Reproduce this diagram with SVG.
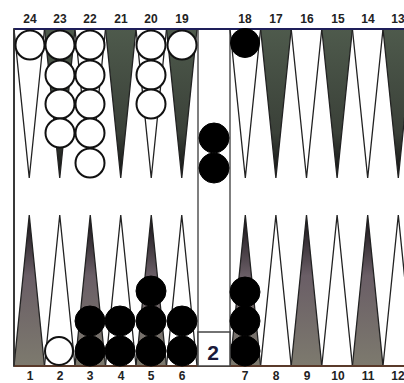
<svg xmlns="http://www.w3.org/2000/svg" width="404" height="383" viewBox="0 0 404 383">
<defs>
<linearGradient id="gt" x1="0" y1="0" x2="0" y2="1">
<stop offset="0" stop-color="#4e5a4c"/><stop offset="0.7" stop-color="#3a4038"/><stop offset="1" stop-color="#111"/>
</linearGradient>
<linearGradient id="gb" x1="0" y1="1" x2="0" y2="0">
<stop offset="0" stop-color="#7d7a6e"/><stop offset="0.6" stop-color="#6a5e66"/><stop offset="1" stop-color="#141014"/>
</linearGradient>
<style>
.pw{fill:#fff;stroke:#222;stroke-width:1.3}
.pdt{fill:url(#gt);stroke:#222;stroke-width:1.3}
.pdb{fill:url(#gb);stroke:#222;stroke-width:1.3}
.w{fill:#fff;stroke:#111;stroke-width:2}
.b{fill:#000;stroke:#000;stroke-width:1}
.n{font-family:"Liberation Sans",Arial,sans-serif;font-size:12px;font-weight:bold;fill:#222;text-anchor:middle}
</style>
</defs>
<rect width="404" height="383" fill="#fff"/>
<g id="board">
<rect x="14" y="29" width="400" height="337" fill="#fff" stroke="#333" stroke-width="1.5"/>
<line x1="198" y1="29" x2="198" y2="366" stroke="#555" stroke-width="1.5"/>
<line x1="230" y1="29" x2="230" y2="366" stroke="#555" stroke-width="1.5"/>
</g>
<g id="points">
<polygon class="pw" points="14,29 44.5,29 29.25,178"/>
<polygon class="pdt" points="44.5,29 75,29 59.75,178"/>
<polygon class="pw" points="75,29 105.5,29 90.25,178"/>
<polygon class="pdt" points="105.5,29 136,29 120.75,178"/>
<polygon class="pw" points="136,29 166.5,29 151.25,178"/>
<polygon class="pdt" points="166.5,29 197,29 181.75,178"/>
<polygon class="pw" points="230,29 260.6,29 245.3,178"/>
<polygon class="pdt" points="260.6,29 291.2,29 275.9,178"/>
<polygon class="pw" points="291.2,29 321.8,29 306.5,178"/>
<polygon class="pdt" points="321.8,29 352.4,29 337.1,178"/>
<polygon class="pw" points="352.4,29 383,29 367.7,178"/>
<polygon class="pdt" points="383,29 413.6,29 398.3,178"/>
<polygon class="pdb" points="14,366 44.5,366 29.25,215"/>
<polygon class="pw" points="44.5,366 75,366 59.75,215"/>
<polygon class="pdb" points="75,366 105.5,366 90.25,215"/>
<polygon class="pw" points="105.5,366 136,366 120.75,215"/>
<polygon class="pdb" points="136,366 166.5,366 151.25,215"/>
<polygon class="pw" points="166.5,366 197,366 181.75,215"/>
<polygon class="pdb" points="230,366 260.6,366 245.3,215"/>
<polygon class="pw" points="260.6,366 291.2,366 275.9,215"/>
<polygon class="pdb" points="291.2,366 321.8,366 306.5,215"/>
<polygon class="pw" points="321.8,366 352.4,366 337.1,215"/>
<polygon class="pdb" points="352.4,366 383,366 367.7,215"/>
<polygon class="pw" points="383,366 413.6,366 398.3,215"/>
</g>
<g id="frame-lines">
<line x1="14" y1="29" x2="404" y2="29" stroke="#1e1e5a" stroke-width="2.2"/>
<line x1="14" y1="366" x2="404" y2="366" stroke="#5a3a2a" stroke-width="2"/>
<line x1="14" y1="29" x2="14" y2="366" stroke="#333" stroke-width="1.8"/>
</g>
<g id="white-checkers">
<circle class="w" cx="30" cy="45" r="14.5"/>
<circle class="w" cx="60" cy="45" r="14.5"/>
<circle class="w" cx="60" cy="75" r="14.5"/>
<circle class="w" cx="60" cy="104" r="14.5"/>
<circle class="w" cx="60" cy="133" r="14.5"/>
<circle class="w" cx="90" cy="45" r="14.5"/>
<circle class="w" cx="90" cy="75" r="14.5"/>
<circle class="w" cx="90" cy="104" r="14.5"/>
<circle class="w" cx="90" cy="133" r="14.5"/>
<circle class="w" cx="90" cy="163" r="14.5"/>
<circle class="w" cx="151" cy="45" r="14.5"/>
<circle class="w" cx="151" cy="75" r="14.5"/>
<circle class="w" cx="151" cy="104" r="14.5"/>
<circle class="w" cx="182" cy="45" r="14.5"/>
<circle class="w" cx="59" cy="351" r="14"/>
</g>
<g id="black-checkers">
<circle class="b" cx="245" cy="43" r="14.5"/>
<circle class="b" cx="214" cy="138" r="15"/>
<circle class="b" cx="214" cy="168" r="15"/>
<circle class="b" cx="90" cy="351" r="15"/>
<circle class="b" cx="90" cy="321" r="15"/>
<circle class="b" cx="120" cy="351" r="15"/>
<circle class="b" cx="120" cy="321" r="15"/>
<circle class="b" cx="151" cy="351" r="15"/>
<circle class="b" cx="151" cy="321" r="15"/>
<circle class="b" cx="151" cy="291" r="15"/>
<circle class="b" cx="182" cy="351" r="15"/>
<circle class="b" cx="182" cy="321" r="15"/>
<circle class="b" cx="245" cy="351" r="15"/>
<circle class="b" cx="245" cy="321" r="15"/>
<circle class="b" cx="245" cy="292" r="15"/>
</g>
<g id="cube">
<rect x="198" y="332" width="32" height="34" fill="#fff" stroke="#444" stroke-width="1.5"/>
<text x="213" y="360" font-family="Liberation Sans,Arial,sans-serif" font-size="21" font-weight="bold" fill="#1a1a3a" text-anchor="middle">2</text>
</g>
<g id="labels">
<text class="n" x="30" y="23">24</text>
<text class="n" x="60" y="23">23</text>
<text class="n" x="90" y="23">22</text>
<text class="n" x="121" y="23">21</text>
<text class="n" x="151" y="23">20</text>
<text class="n" x="182" y="23">19</text>
<text class="n" x="245" y="23">18</text>
<text class="n" x="276" y="23">17</text>
<text class="n" x="307" y="23">16</text>
<text class="n" x="338" y="23">15</text>
<text class="n" x="368" y="23">14</text>
<text class="n" x="398" y="23">13</text>
<text class="n" x="30" y="380">1</text>
<text class="n" x="60" y="380">2</text>
<text class="n" x="90" y="380">3</text>
<text class="n" x="121" y="380">4</text>
<text class="n" x="151" y="380">5</text>
<text class="n" x="182" y="380">6</text>
<text class="n" x="245" y="380">7</text>
<text class="n" x="276" y="380">8</text>
<text class="n" x="307" y="380">9</text>
<text class="n" x="338" y="380">10</text>
<text class="n" x="368" y="380">11</text>
<text class="n" x="398" y="380">12</text>
</g>
</svg>
